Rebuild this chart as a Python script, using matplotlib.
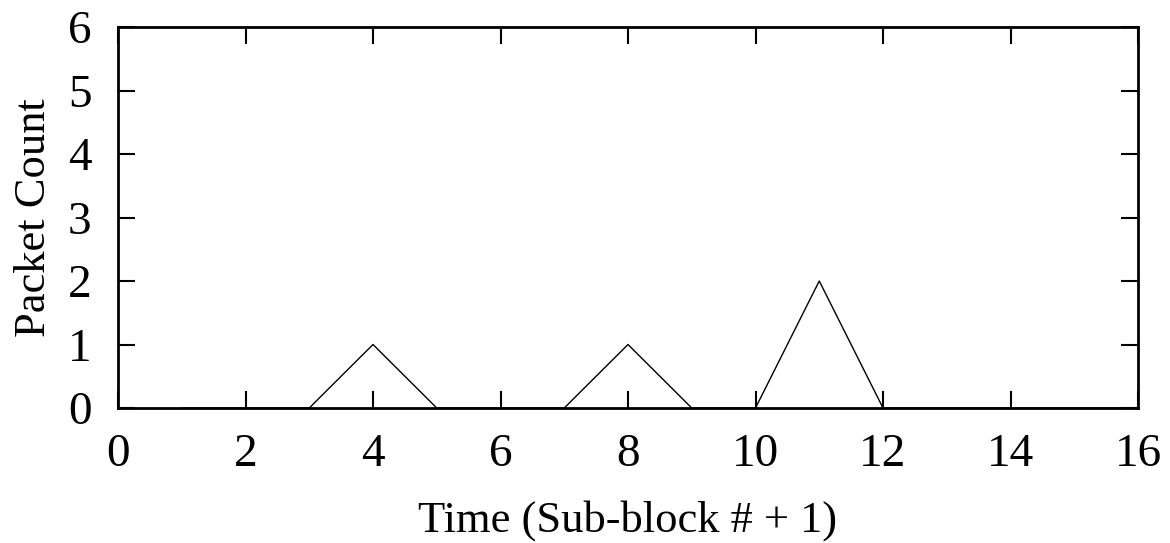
import matplotlib
matplotlib.use('Agg')
import matplotlib.pyplot as plt

# Packet count per sub-block
time = [1, 2, 3, 4, 5, 6, 7, 8, 9, 10, 11, 12, 13, 14, 15, 16]
packets = [0, 0, 0, 1, 0, 0, 0, 1, 0, 0, 2, 0, 0, 0, 0, 0]

plt.rcParams['font.family'] = ['Liberation Serif', 'DejaVu Serif']

fig = plt.figure(figsize=(11.7, 5.43), dpi=100)
ax = fig.add_axes([118 / 1170, 1 - 408 / 543, (1138 - 118) / 1170, (408 - 27) / 543])

ax.plot(time, packets, color='black', lw=1.0)

ax.set_xlim(0, 16)
ax.set_ylim(0, 6)
ax.set_xticks(range(0, 17, 2))
ax.set_yticks(range(0, 7))

ax.tick_params(direction='in', length=12, width=1.5, top=True, right=True,
               labelsize=34)
ax.tick_params(axis='x', pad=18)
ax.tick_params(axis='y', pad=19)
for s in ax.spines.values():
    s.set_linewidth(2)

ax.set_xlabel('Time (Sub-block # + 1)', fontsize=32, labelpad=18)
ax.set_ylabel('Packet Count', fontsize=32, labelpad=10)

fig.savefig('out.png', dpi=100)
